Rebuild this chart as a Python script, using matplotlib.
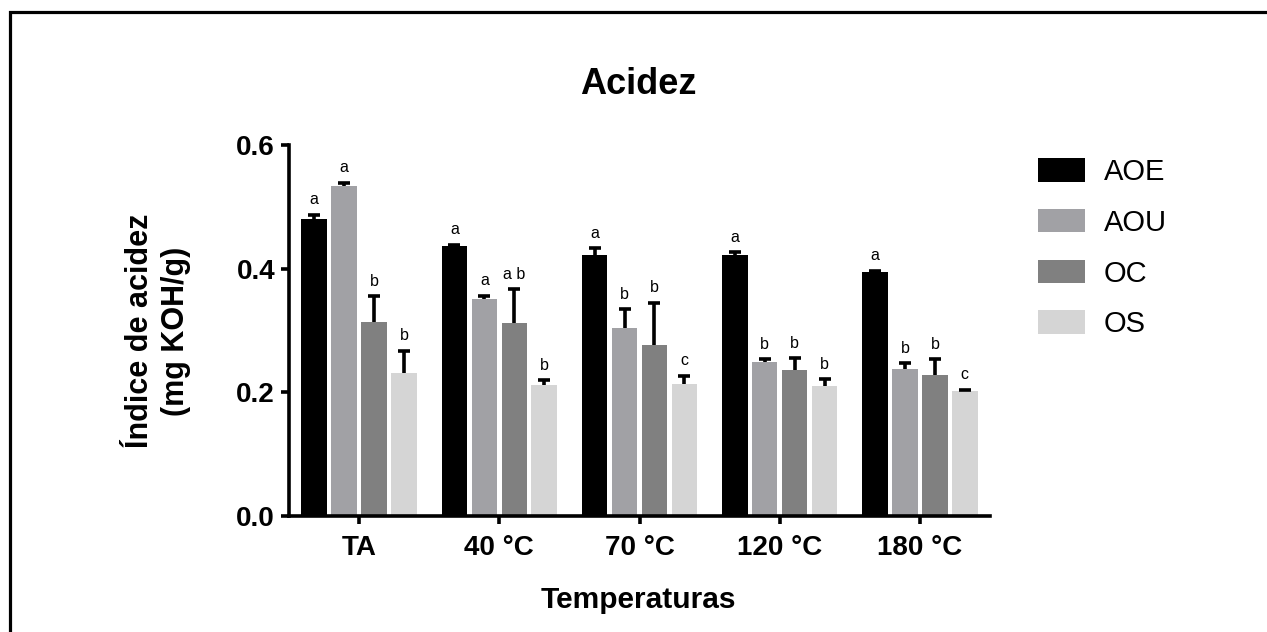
import matplotlib
matplotlib.use("Agg")
import matplotlib.pyplot as plt
import numpy as np
from matplotlib.patches import Rectangle

plt.rcParams['font.family'] = ['Liberation Sans', 'DejaVu Sans']

categories = ["TA", "40 °C", "70 °C", "120 °C", "180 °C"]
series_names = ["AOE", "AOU", "OC", "OS"]
colors = ["#000000", "#a1a1a5", "#808080", "#d5d5d5"]

aoe = [0.480, 0.437, 0.422, 0.422, 0.394]
aou = [0.534, 0.351, 0.304, 0.249, 0.238]
oc = [0.314, 0.312, 0.276, 0.236, 0.228]
os_ = [0.231, 0.212, 0.214, 0.211, 0.202]

aoe_err = [0.007, 0.002, 0.011, 0.005, 0.003]
aou_err = [0.005, 0.005, 0.030, 0.005, 0.009]
oc_err = [0.041, 0.055, 0.069, 0.019, 0.026]
os_err = [0.036, 0.008, 0.013, 0.010, 0.002]

aoe_let = ["a", "a", "a", "a", "a"]
aou_let = ["a", "a", "b", "b", "b"]
oc_let = ["b", "a b", "b", "b", "b"]
os_let = ["b", "b", "c", "b", "c"]

values = [aoe, aou, oc, os_]
errors = [aoe_err, aou_err, oc_err, os_err]
letters = [aoe_let, aou_let, oc_let, os_let]

W, H = 1267, 632
fig = plt.figure(figsize=(W / 100, H / 100), dpi=100)
ax = fig.add_axes([289 / W, 1 - 516 / H, (990 - 289) / W, (516 - 145) / H])

x = np.arange(len(categories))
pitch = 0.2135
width = 0.182
for i, (name, vals, errs, lets, col) in enumerate(zip(series_names, values, errors, letters, colors)):
    xs = x + (i - 1.5) * pitch
    vals = np.array(vals)
    errs = np.array(errs)
    ax.bar(xs, vals, width=width, color=col, edgecolor='none', label=name, zorder=2)
    eb = ax.errorbar(xs, vals, yerr=[np.zeros_like(errs), errs], fmt='none',
                     ecolor='black', elinewidth=2.6, capsize=4.2, capthick=2.6, zorder=3)
    eb[1][0].set_visible(False)
    for xi, v, e, t in zip(xs, vals, errs, lets):
        ax.annotate(t, (xi, v + e), xytext=(0, 7.5), textcoords='offset points',
                    ha='center', va='baseline', fontsize=11.5)

ax.set_xlim(-0.5, len(categories) - 0.5)
ax.set_ylim(0, 0.6)
ax.set_yticks([0.0, 0.2, 0.4, 0.6])
ax.set_yticklabels(["0.0", "0.2", "0.4", "0.6"], fontsize=20, fontweight='bold')
ax.set_xticks(x)
ax.set_xticklabels(categories, fontsize=20, fontweight='bold')
for s in ['top', 'right']:
    ax.spines[s].set_visible(False)
for s in ['left', 'bottom']:
    ax.spines[s].set_linewidth(2.6)
ax.tick_params(axis='both', width=2.6, length=6, direction='out')
ax.tick_params(axis='y', pad=4)
ax.tick_params(axis='x', pad=8)

fig.text(638 / W, 1 - 85 / H, "Acidez", ha='center', va='center', fontsize=26, fontweight='bold')
fig.text(638 / W, 1 - 600 / H, "Temperaturas", ha='center', va='center', fontsize=21.5, fontweight='bold')
fig.text(158 / W, 1 - 331 / H, "Índice de acidez\n(mg KOH/g)", ha='center', va='center',
         rotation=90, fontsize=22, fontweight='bold', multialignment='center', linespacing=1.25)

leg = ax.legend(loc='upper left', bbox_to_anchor=(1038 / W, 1 - 158 / H),
                bbox_transform=fig.transFigure, frameon=False, fontsize=21,
                handlelength=1.6, handleheight=0.86, handletextpad=0.65,
                labelspacing=0.78, borderpad=0, borderaxespad=0)

fig.patches.append(Rectangle((9.5 / W, -0.1), 1.2, 1 - 12 / H + 0.1, transform=fig.transFigure,
                             fill=False, edgecolor='black', linewidth=2.3, clip_on=False))

fig.savefig("out.png", dpi=100, facecolor='white')
